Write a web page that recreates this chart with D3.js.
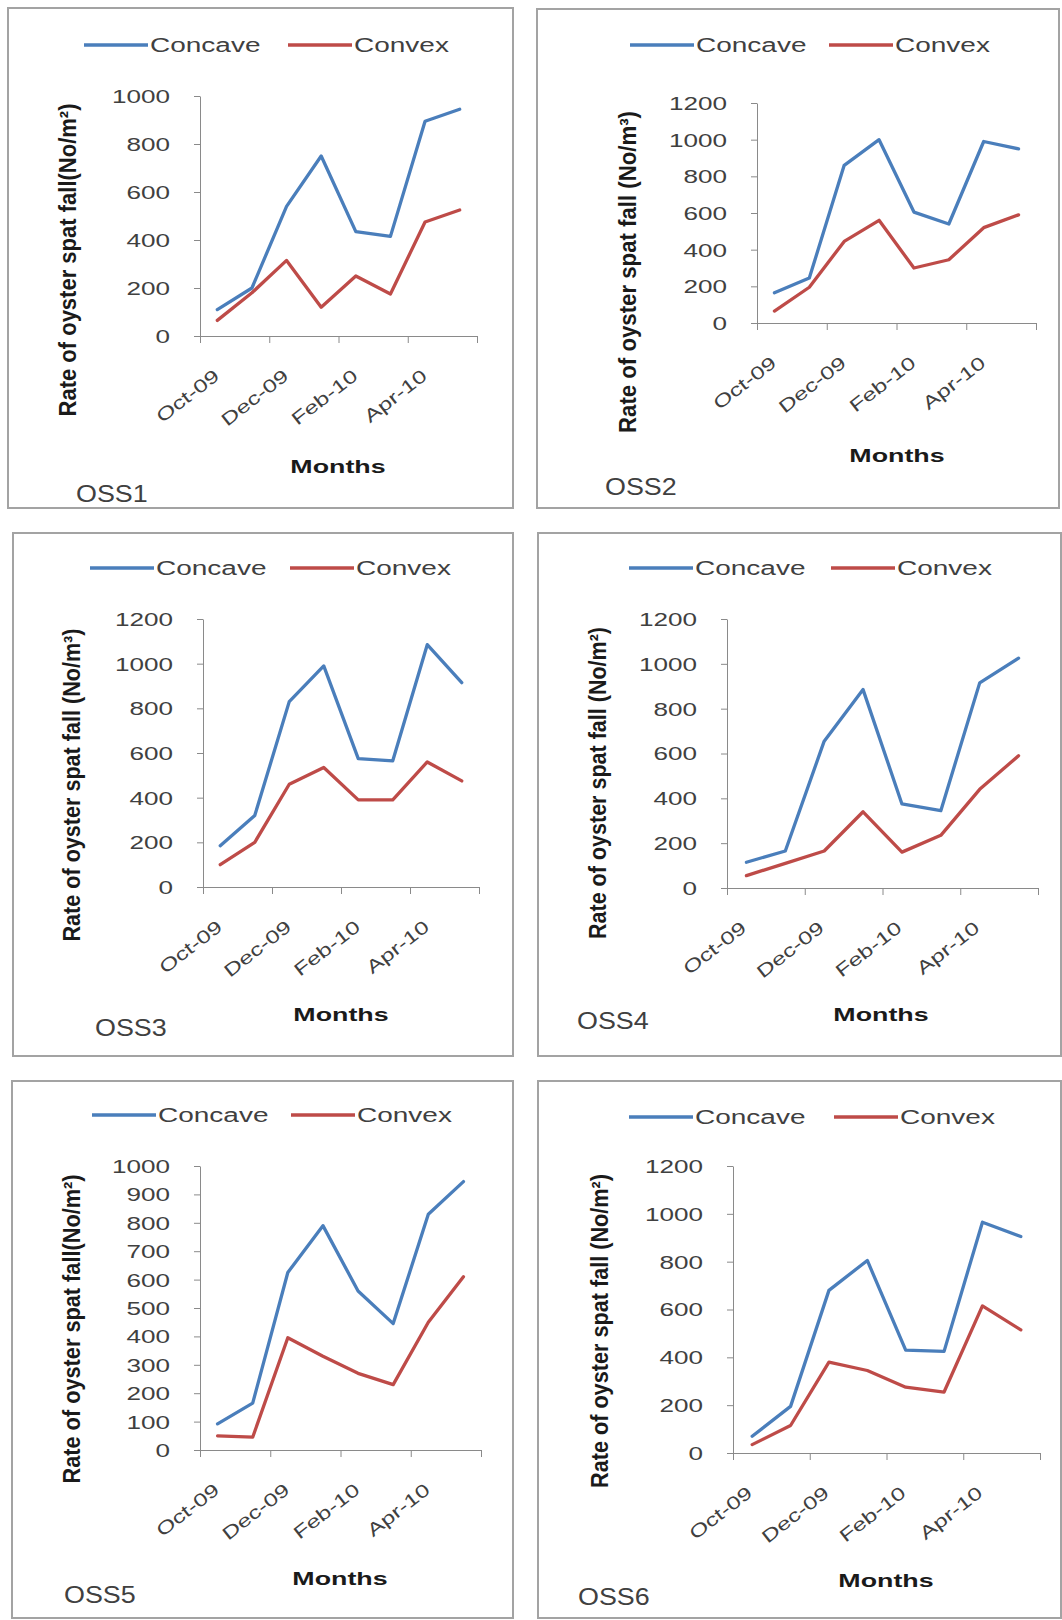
<!DOCTYPE html>
<html>
<head>
<meta charset="utf-8">
<script src="https://cdn.jsdelivr.net/npm/d3@7"></script>
<style>
  body { margin: 0; background: #fff; }
  svg { display: block; font-family: "Liberation Sans", Arial, sans-serif; }
</style>
</head>
<body>
<svg id="chart" width="1062" height="1620"></svg>
<script>
// months Oct-09 .. May-10, one point per month
const months = ["Oct-09", "Nov-09", "Dec-09", "Jan-10", "Feb-10", "Mar-10", "Apr-10", "May-10"];
const tickLabels = ["Oct-09", "Dec-09", "Feb-10", "Apr-10"];
const stations = ["OSS1", "OSS2", "OSS3", "OSS4", "OSS5", "OSS6"];
const seriesNames = ["Concave", "Convex"];

const concave = [
  [110, 200, 540, 750, 435, 415, 895, 945],
  [165, 245, 860, 1000, 605, 540, 990, 950],
  [185, 320, 830, 990, 575, 565, 1085, 915],
  [115, 165, 655, 885, 375, 345, 915, 1025],
  [92, 165, 625, 790, 560, 445, 830, 945],
  [70, 195, 680, 805, 430, 425, 965, 905]
];
const convex = [
  [65, 180, 315, 120, 250, 175, 475, 525],
  [65, 195, 445, 560, 300, 345, 520, 590],
  [100, 200, 460, 535, 390, 390, 560, 475],
  [55, 110, 165, 340, 160, 235, 440, 590],
  [50, 45, 395, 330, 270, 230, 450, 610],
  [35, 115, 380, 345, 275, 255, 615, 515]
];
const yMax = [1000, 1200, 1200, 1200, 1000, 1200];
const yStep = [200, 200, 200, 200, 100, 200];
const yTitles = [
  "Rate of oyster spat fall(No/m²)",
  "Rate of oyster spat fall (No/m³)",
  "Rate of oyster spat fall (No/m³)",
  "Rate of oyster spat fall (No/m²)",
  "Rate of oyster spat fall(No/m²)",
  "Rate of oyster spat fall (No/m²)"
];

const colors = ["#4a7ebb", "#be4b48"];

// where each small chart sits on the page
const layout = [
  {box: [8, 8, 513, 508], left: 200, right: 477, top: 96, bottom: 336, legY: 45, leg1: 84, leg2: 288, tX: 68, tY: 260, tLen: 313, mX: 338, mY: 473, nX: 76, nY: 502},
  {box: [537, 9, 1059, 508], left: 757, right: 1036, top: 103, bottom: 323, legY: 45, leg1: 630, leg2: 829, tX: 628, tY: 272, tLen: 322, mX: 897, mY: 462, nX: 605, nY: 495},
  {box: [13, 533, 513, 1056], left: 203, right: 479, top: 619, bottom: 887, legY: 568, leg1: 90, leg2: 290, tX: 72, tY: 785, tLen: 313, mX: 341, mY: 1021, nX: 95, nY: 1036},
  {box: [538, 533, 1061, 1056], left: 727, right: 1038, top: 619, bottom: 888, legY: 568, leg1: 629, leg2: 831, tX: 598, tY: 783, tLen: 312, mX: 881, mY: 1021, nX: 577, nY: 1029},
  {box: [12, 1081, 513, 1618], left: 200, right: 481, top: 1166, bottom: 1450, legY: 1115, leg1: 92, leg2: 291, tX: 72, tY: 1329, tLen: 309, mX: 340, mY: 1585, nX: 64, nY: 1603},
  {box: [538, 1081, 1061, 1618], left: 733, right: 1040, top: 1166, bottom: 1453, legY: 1117, leg1: 629, leg2: 834, tX: 600, tY: 1331, tLen: 314, mX: 886, mY: 1587, nX: 578, nY: 1605}
];

const svg = d3.select("#chart");

stations.forEach((name, p) => {
  const L = layout[p];
  const g = svg.append("g");

  g.append("rect")
    .attr("x", L.box[0]).attr("y", L.box[1])
    .attr("width", L.box[2] - L.box[0]).attr("height", L.box[3] - L.box[1])
    .attr("fill", "#fff").attr("stroke", "#a3a3a3").attr("stroke-width", 2);

  const x = d3.scaleLinear().domain([0, months.length]).range([L.left, L.right]);
  const y = d3.scaleLinear().domain([0, yMax[p]]).range([L.bottom, L.top]);

  // y axis
  const ya = g.append("g").attr("transform", `translate(${L.left},0)`)
    .call(d3.axisLeft(y).tickValues(d3.range(0, yMax[p] + 1, yStep[p]))
      .tickFormat(d3.format("d")).tickSize(6).tickSizeOuter(0));
  ya.selectAll("path, line").attr("stroke", "#8a8a8a");
  ya.selectAll("text")
    .attr("font-size", 18).attr("fill", "#404040").attr("font-family", null)
    .attr("x", 0).attr("dy", "0.36em")
    .attr("transform", "translate(-30,0) scale(1.45,1)");

  // x axis, a tick every second month
  const xa = g.append("g").attr("transform", `translate(0,${L.bottom})`)
    .call(d3.axisBottom(x).tickValues([0, 2, 4, 6, 8]).tickFormat(i => tickLabels[i / 2] || "").tickSize(7).tickSizeOuter(0));
  xa.selectAll("path, line").attr("stroke", "#8a8a8a");
  xa.selectAll("text")
    .attr("font-size", 18).attr("fill", "#404040").attr("font-family", null)
    .attr("x", 0).attr("y", 0).attr("dy", 0)
    .attr("text-anchor", "end")
    .attr("transform", "translate(20,42) rotate(-38) scale(1.37,1)");

  // lines
  const line = d3.line().x((d, i) => x(i + 0.5)).y(d => y(d));
  [concave[p], convex[p]].forEach((vals, s) => {
    g.append("path").datum(vals)
      .attr("d", line)
      .attr("fill", "none").attr("stroke", colors[s])
      .attr("stroke-width", 3.3).attr("stroke-linejoin", "round").attr("stroke-linecap", "round");
  });

  // legend
  [L.leg1, L.leg2].forEach((lx, s) => {
    g.append("line")
      .attr("x1", lx).attr("x2", lx + 64).attr("y1", L.legY).attr("y2", L.legY)
      .attr("stroke", colors[s]).attr("stroke-width", 3.3);
    g.append("text")
      .attr("transform", `translate(${lx + 66},${L.legY}) scale(1.4,1)`)
      .attr("dy", "0.35em")
      .attr("font-size", 20).attr("fill", "#404040")
      .text(seriesNames[s]);
  });

  // axis titles
  g.append("text")
    .attr("transform", `translate(${L.tX},${L.tY}) rotate(-90)`)
    .attr("text-anchor", "middle").attr("dy", "0.35em")
    .attr("font-size", 23).attr("font-weight", "bold").attr("fill", "#1a1a1a")
    .attr("textLength", L.tLen).attr("lengthAdjust", "spacingAndGlyphs")
    .text(yTitles[p]);

  g.append("text")
    .attr("transform", `translate(${L.mX},${L.mY}) scale(1.45,1)`)
    .attr("text-anchor", "middle")
    .attr("font-size", 18.5).attr("font-weight", "bold").attr("fill", "#1a1a1a")
    .text("Months");

  g.append("text")
    .attr("transform", `translate(${L.nX},${L.nY}) scale(1.12,1)`)
    .attr("font-size", 24).attr("fill", "#404040")
    .text(name);
});
</script>
</body>
</html>
